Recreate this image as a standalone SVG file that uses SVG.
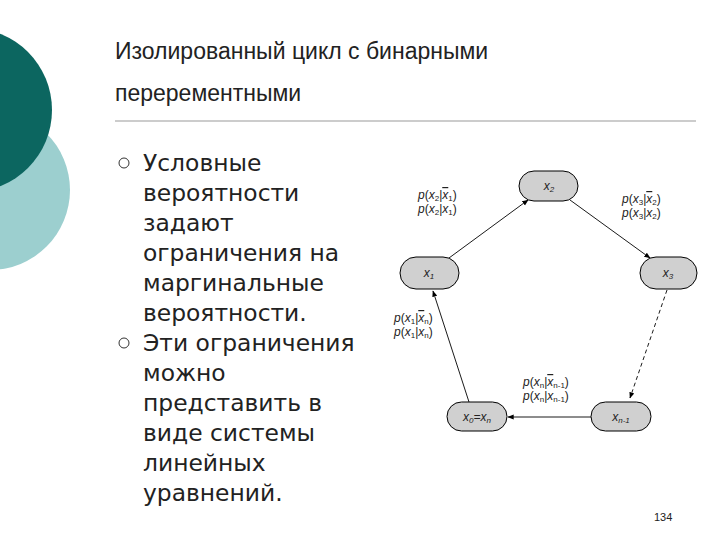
<svg xmlns="http://www.w3.org/2000/svg" width="720" height="540" viewBox="0 0 720 540">
<style>
.t{font-family:"Liberation Sans",Arial,sans-serif;fill:#222}
.b{font-family:"DejaVu Sans",Verdana,sans-serif;fill:#222}
.n{fill:#d0d0d0;stroke:#000;stroke-width:1}
.l{font-family:"Liberation Sans",Arial,sans-serif;font-size:12px;fill:#222}
.e{stroke:#000;stroke-width:0.9;fill:none}
.i{font-style:italic}
.o{text-decoration:overline}
</style>
<defs><marker id="a" viewBox="0 0 10 10" refX="9" refY="5" markerWidth="7" markerHeight="7" orient="auto"><path d="M0,1 L10,5 L0,9 z" fill="#000"/></marker></defs>
<rect width="720" height="540" fill="#fff"/>
<circle cx="-10" cy="190" r="80" fill="#9ccfcf"/>
<circle cx="-30" cy="110" r="82" fill="#0c6660"/>
<text class="t" x="115" y="59" font-size="23">Изолированный цикл с бинарными</text>
<text class="t" x="115" y="101" font-size="23">перерементными</text>
<line x1="115" y1="121" x2="696" y2="121" stroke="#999" stroke-width="1"/>
<g class="b" font-size="23.4">
<circle cx="124" cy="163" r="5" fill="none" stroke="#333" stroke-width="1"/>
<text x="143" y="171">Условные</text>
<text x="143" y="201">вероятности</text>
<text x="143" y="231">задают</text>
<text x="143" y="261">ограничения на</text>
<text x="143" y="291">маргинальные</text>
<text x="143" y="321">вероятности.</text>
<circle cx="124" cy="343" r="5" fill="none" stroke="#333" stroke-width="1"/>
<text x="143" y="351">Эти ограничения</text>
<text x="143" y="381">можно</text>
<text x="143" y="411">представить в</text>
<text x="143" y="441">виде системы</text>
<text x="143" y="471">линейных</text>
<text x="143" y="501">уравнений.</text>
</g>
<g id="edges">
<line class="e" x1="449" y1="258" x2="528" y2="200" marker-end="url(#a)"/>
<line class="e" x1="570" y1="200" x2="650" y2="258" marker-end="url(#a)"/>
<line class="e" x1="667" y1="290" x2="630" y2="398" stroke-dasharray="4,3" marker-end="url(#a)"/>
<line class="e" x1="591" y1="417" x2="508" y2="417" marker-end="url(#a)"/>
<line class="e" x1="469" y1="402" x2="433" y2="291" marker-end="url(#a)"/>
</g>
<g id="x2"><rect class="n" x="519" y="171" width="59" height="30" rx="15"/><text class="l i" x="549" y="190" text-anchor="middle">x<tspan font-size="8" dy="2">2</tspan></text></g>
<g id="x1"><rect class="n" x="400" y="257" width="59" height="32" rx="16"/><text class="l i" x="429" y="277" text-anchor="middle">x<tspan font-size="8" dy="2">1</tspan></text></g>
<g id="x3"><rect class="n" x="640" y="257" width="57" height="32" rx="16"/><text class="l i" x="668" y="277" text-anchor="middle">x<tspan font-size="8" dy="2">3</tspan></text></g>
<g id="x0"><rect class="n" x="447" y="402" width="60" height="29" rx="14.5"/><text class="l i" x="477" y="421" text-anchor="middle">x<tspan font-size="8" dy="2">0</tspan><tspan dy="-2">=x</tspan><tspan font-size="8" dy="2">n</tspan></text></g>
<g id="xn1"><rect class="n" x="591" y="402" width="60" height="29" rx="14.5"/><text class="l i" x="621" y="421" text-anchor="middle">x<tspan font-size="8" dy="2">n-1</tspan></text></g>
<g id="labels" class="l">
<text x="418" y="199"><tspan class="i">p</tspan>(<tspan class="i">x</tspan><tspan font-size="8" dy="2">2</tspan><tspan dy="-2">|</tspan><tspan class="i o">x</tspan><tspan font-size="8" dy="2">1</tspan><tspan dy="-2">)</tspan></text>
<text x="418" y="213"><tspan class="i">p</tspan>(<tspan class="i">x</tspan><tspan font-size="8" dy="2">2</tspan><tspan dy="-2">|</tspan><tspan class="i">x</tspan><tspan font-size="8" dy="2">1</tspan><tspan dy="-2">)</tspan></text>
<text x="622" y="203"><tspan class="i">p</tspan>(<tspan class="i">x</tspan><tspan font-size="8" dy="2">3</tspan><tspan dy="-2">|</tspan><tspan class="i o">x</tspan><tspan font-size="8" dy="2">2</tspan><tspan dy="-2">)</tspan></text>
<text x="622" y="217"><tspan class="i">p</tspan>(<tspan class="i">x</tspan><tspan font-size="8" dy="2">3</tspan><tspan dy="-2">|</tspan><tspan class="i">x</tspan><tspan font-size="8" dy="2">2</tspan><tspan dy="-2">)</tspan></text>
<text x="394" y="322"><tspan class="i">p</tspan>(<tspan class="i">x</tspan><tspan font-size="8" dy="2">1</tspan><tspan dy="-2">|</tspan><tspan class="i o">x</tspan><tspan font-size="8" dy="2">n</tspan><tspan dy="-2">)</tspan></text>
<text x="394" y="336"><tspan class="i">p</tspan>(<tspan class="i">x</tspan><tspan font-size="8" dy="2">1</tspan><tspan dy="-2">|</tspan><tspan class="i">x</tspan><tspan font-size="8" dy="2">n</tspan><tspan dy="-2">)</tspan></text>
<text x="523" y="386"><tspan class="i">p</tspan>(<tspan class="i">x</tspan><tspan font-size="8" dy="2">n</tspan><tspan dy="-2">|</tspan><tspan class="i o">x</tspan><tspan font-size="8" dy="2">n-1</tspan><tspan dy="-2">)</tspan></text>
<text x="523" y="400"><tspan class="i">p</tspan>(<tspan class="i">x</tspan><tspan font-size="8" dy="2">n</tspan><tspan dy="-2">|</tspan><tspan class="i">x</tspan><tspan font-size="8" dy="2">n-1</tspan><tspan dy="-2">)</tspan></text>
</g>
<text class="t" x="654" y="521" font-size="11">134</text>
</svg>
